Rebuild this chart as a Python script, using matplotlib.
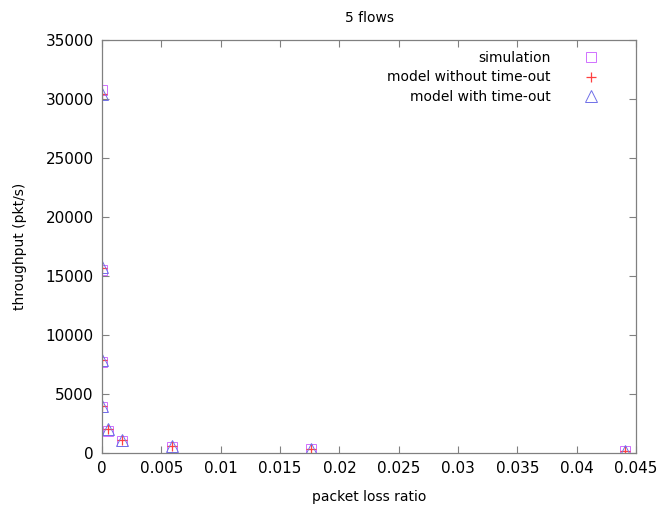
import matplotlib
matplotlib.use("Agg")
import matplotlib.pyplot as plt

# packet loss ratio and throughput for the 5-flow runs
loss = [0.0, 0.0, 0.0, 0.0, 0.00048, 0.0017, 0.00587, 0.0176, 0.0441]
sim = [30800, 15500, 7700, 3900, 1900, 1000, 530, 300, 170]
model_no_to = [30450, 15650, 7850, 3980, 2030, 1080, 560, 330, 190]
model_to = [30450, 15750, 7880, 4000, 2050, 1100, 580, 350, 200]

fig = plt.figure(figsize=(6.62, 5.11), dpi=100)
ax = fig.add_axes([0.154, 0.1135, 0.807, 0.8082])

ax.plot(loss, sim, linestyle='none', marker='s', markersize=7.5, mfc='none',
        mec='#d070ff', mew=0.7, label='simulation')
ax.plot(loss, model_no_to, linestyle='none', marker='+', markersize=7.5,
        color='#ff4040', mew=0.9, label='model without time-out')
ax.plot(loss, model_to, linestyle='none', marker='^', markersize=8, mfc='none',
        mec='#7070e8', mew=0.7, label='model with time-out')

ax.set_xlim(0, 0.045)
ax.set_ylim(0, 35000)
ax.set_xticks([0, 0.005, 0.01, 0.015, 0.02, 0.025, 0.03, 0.035, 0.04, 0.045])
ax.set_xticklabels(['0', '0.005', '0.01', '0.015', '0.02', '0.025', '0.03',
                    '0.035', '0.04', '0.045'])
ax.set_yticks(range(0, 35001, 5000))
ax.tick_params(direction='in', top=True, right=True, length=5, width=0.8,
               color='#808080', labelsize=11, pad=6)
for s in ax.spines.values():
    s.set_color('#808080')
    s.set_linewidth(0.9)

ax.set_xlabel('packet loss ratio', fontsize=10, labelpad=10)
ax.set_ylabel('throughput (pkt/s)', fontsize=10, labelpad=13)
ax.set_title('5 flows', fontsize=10, pad=13)

ax.legend(loc='upper right', frameon=False, markerfirst=False, fontsize=10,
          handletextpad=1.9, labelspacing=0.38, borderaxespad=0.4,
          bbox_to_anchor=(0.962, 1.0))

fig.savefig('out.png', dpi=100)
